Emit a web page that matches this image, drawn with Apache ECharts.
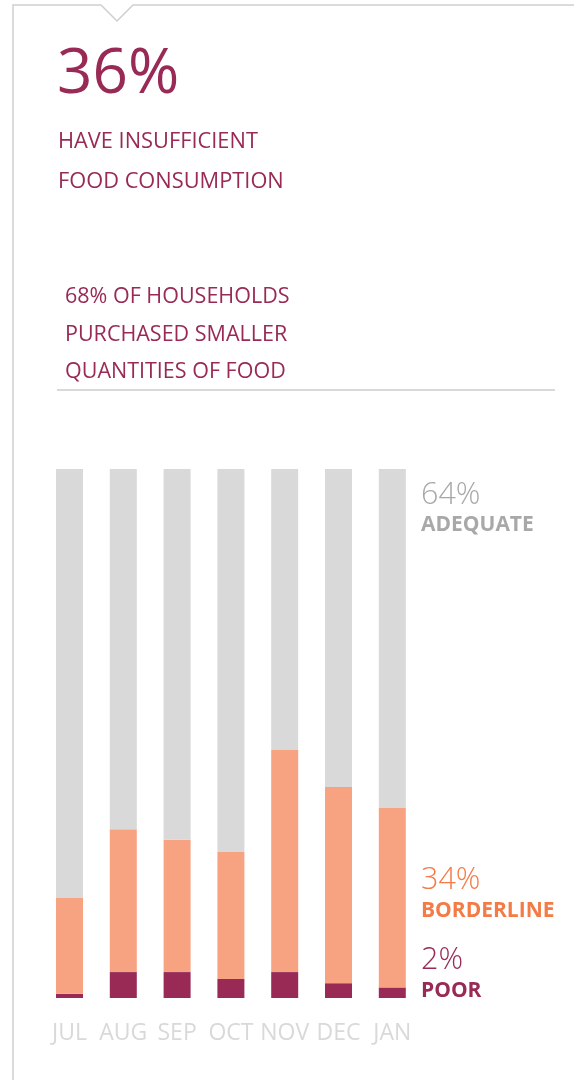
<!DOCTYPE html>
<html>
<head>
<meta charset="utf-8">
<script src="https://cdn.jsdelivr.net/npm/echarts@6/dist/echarts.min.js"></script>
<style>
html,body{margin:0;padding:0;background:#fff;}
#chart{width:574px;height:1080px;}
</style>
</head>
<body>
<div id="chart"></div>
<script>
const months = ['JUL', 'AUG', 'SEP', 'OCT', 'NOV', 'DEC', 'JAN'];
const poor = [0.8, 4.9, 4.9, 3.6, 4.9, 2.8, 2];
const borderline = [18.1, 27, 25, 24, 42, 37.1, 34];
const adequate = [81.1, 68.1, 70.1, 72.4, 53.1, 60.1, 64];
const headlineValue = '36%';
const headlineLines = ['HAVE INSUFFICIENT', 'FOOD CONSUMPTION'];
const noteLines = ['68% OF HOUSEHOLDS', 'PURCHASED SMALLER', 'QUANTITIES OF FOOD'];
const seriesNames = ['POOR', 'BORDERLINE', 'ADEQUATE'];

const FONT = '"Open Sans", "Noto Sans", sans-serif';
const MAROON = '#982a55';
const ORANGE = '#f47b46';
const GREY = '#a8a8a8';
const last = months.length - 1;

const chart = echarts.init(document.getElementById('chart'), null, {renderer: 'canvas'});

function txt(text, x, y, size, color, weight) {
  return {
    type: 'text', silent: true,
    style: {
      text: text, x: x, y: y, fill: color,
      font: (weight || 'normal') + ' ' + size + 'px ' + FONT,
      verticalAlign: 'bottom', align: 'left'
    }
  };
}

const frame = '#cfcfcf';
const graphics = [
  {type: 'polyline', silent: true, shape: {points: [[13, 1080], [13, 5], [101, 5], [117, 21], [133, 5], [574, 5]]},
   style: {stroke: frame, lineWidth: 1.5, fill: null}},
  {type: 'line', silent: true, shape: {x1: 57, y1: 390, x2: 555, y2: 390}, style: {stroke: '#cccccc', lineWidth: 1.5}},
  txt(headlineValue, 57, 106, 62, MAROON, 'normal'),
];
headlineLines.forEach((t, i) => graphics.push(txt(t, 58, 153 + i * 40, 21.8, MAROON)));
noteLines.forEach((t, i) => graphics.push(txt(t, 65, 308 + i * 37.5, 21.5, MAROON)));
graphics.push(txt(adequate[last] + '%', 421, 511, 30.5, GREY, '300'));
graphics.push(txt(seriesNames[2], 421, 536, 21, GREY, 'bold'));
graphics.push(txt(borderline[last] + '%', 421, 896, 30.5, ORANGE, '300'));
graphics.push(txt(seriesNames[1], 421, 922, 21, ORANGE, 'bold'));
graphics.push(txt(poor[last] + '%', 421, 976, 30.5, MAROON, '300'));
graphics.push(txt(seriesNames[0], 421, 1002, 21, MAROON, 'bold'));

const option = {
  animation: false,
  backgroundColor: '#ffffff',
  grid: {left: 42.6, right: 154.8, top: 469, bottom: 82, containLabel: false},
  xAxis: {
    type: 'category', data: months,
    axisLine: {show: false}, axisTick: {show: false},
    axisLabel: {color: '#d9d9d9', fontFamily: FONT, fontSize: 23, margin: 24, interval: 0}
  },
  yAxis: {type: 'value', min: 0, max: 100, show: false, splitLine: {show: false}},
  series: [
    {name: seriesNames[0], type: 'bar', stack: 'fc', data: poor, barWidth: 27, itemStyle: {color: MAROON}},
    {name: seriesNames[1], type: 'bar', stack: 'fc', data: borderline, barWidth: 27, itemStyle: {color: '#f7a381'}},
    {name: seriesNames[2], type: 'bar', stack: 'fc', data: adequate, barWidth: 27, itemStyle: {color: '#d9d9d9'}}
  ],
  graphic: graphics
};
chart.setOption(option);
</script>
</body>
</html>
